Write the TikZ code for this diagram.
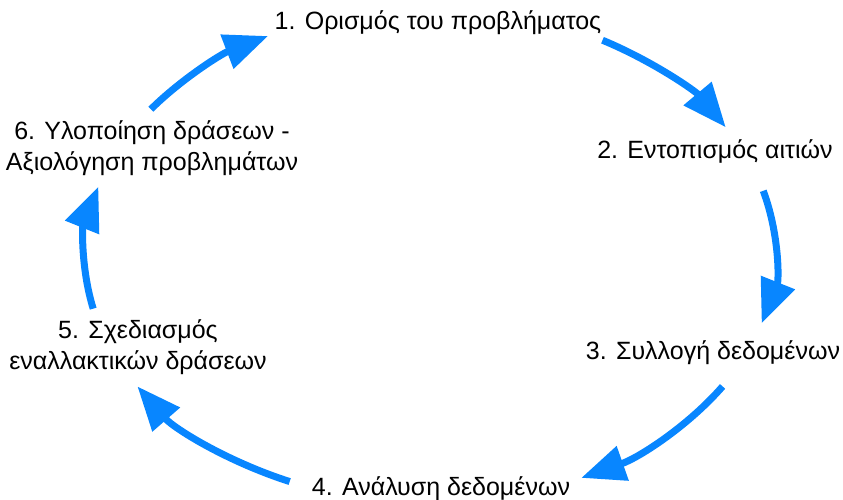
\documentclass[tikz,border=0pt]{standalone}
\usepackage{fontspec}
\setmainfont{Liberation Sans}
\usetikzlibrary{arrows.meta,calc}
\definecolor{flowblue}{RGB}{8,134,255}
\begin{document}
\begin{tikzpicture}[x=1pt,y=1pt,
  lbl/.style={font=\fontsize{25}{31.5}\selectfont, text=black, inner sep=0pt},
  flow/.style={draw=flowblue, line width=7pt,
    -{Triangle[length=44pt,width=35pt]}, fill=none}]
\useasboundingbox (0,0) rectangle (843,500);
\coordinate (C) at (430,245);
% labels
\node[lbl] (n1) at (438,477) {1. Ορισμός του προβλήματος};
\node[lbl] (n2) at (715,349) {2. Εντοπισμός αιτιών};
\node[lbl] (n3) at (713,147) {3. Συλλογή δεδομένων};
\node[lbl] (n4) at (441,11) {4. Ανάλυση δεδομένων};
\node[lbl, align=center] (n5) at (138,153) {5. Σχεδιασμός\\εναλλακτικών δράσεων};
\node[lbl, align=center] (n6) at (152,352) {6. Υλοποίηση δράσεων -\\Αξιολόγηση προβλημάτων};
% arrow end points on the cycle
\coordinate (a1s) at ($(C)+(60:345pt and 248pt)$);
\coordinate (a1e) at ($(C)+(31:345pt and 248pt)$);
\coordinate (a2s) at ($(C)+(15:345pt and 248pt)$);
\coordinate (a2e) at ($(C)+(-16:345pt and 248pt)$);
\coordinate (a3s) at ($(C)+(-32:345pt and 248pt)$);
\coordinate (a3e) at ($(C)+(-64:345pt and 248pt)$);
\coordinate (a4s) at ($(C)+(-114:345pt and 248pt)$);
\coordinate (a4e) at ($(C)+(-148:345pt and 248pt)$);
\coordinate (a5s) at ($(C)+(-167.5:345pt and 248pt)$);
\coordinate (a5e) at ($(C)+(-196:345pt and 248pt)$);
\coordinate (a6s) at ($(C)+(144:345pt and 248pt)$);
\coordinate (a6e) at ($(C)+(118:345pt and 248pt)$);
% arrows
\draw[flow] (a1s) arc[start angle=60, end angle=31, x radius=345pt, y radius=248pt];
\draw[flow] (a2s) arc[start angle=15, end angle=-16, x radius=345pt, y radius=248pt];
\draw[flow] (a3s) arc[start angle=-32, end angle=-64, x radius=345pt, y radius=248pt];
\draw[flow] (a4s) arc[start angle=-114, end angle=-148, x radius=345pt, y radius=248pt];
\draw[flow] (a5s) arc[start angle=-167.5, end angle=-196, x radius=345pt, y radius=248pt];
\draw[flow] (a6s) arc[start angle=144, end angle=118, x radius=345pt, y radius=248pt];
\end{tikzpicture}
\end{document}
